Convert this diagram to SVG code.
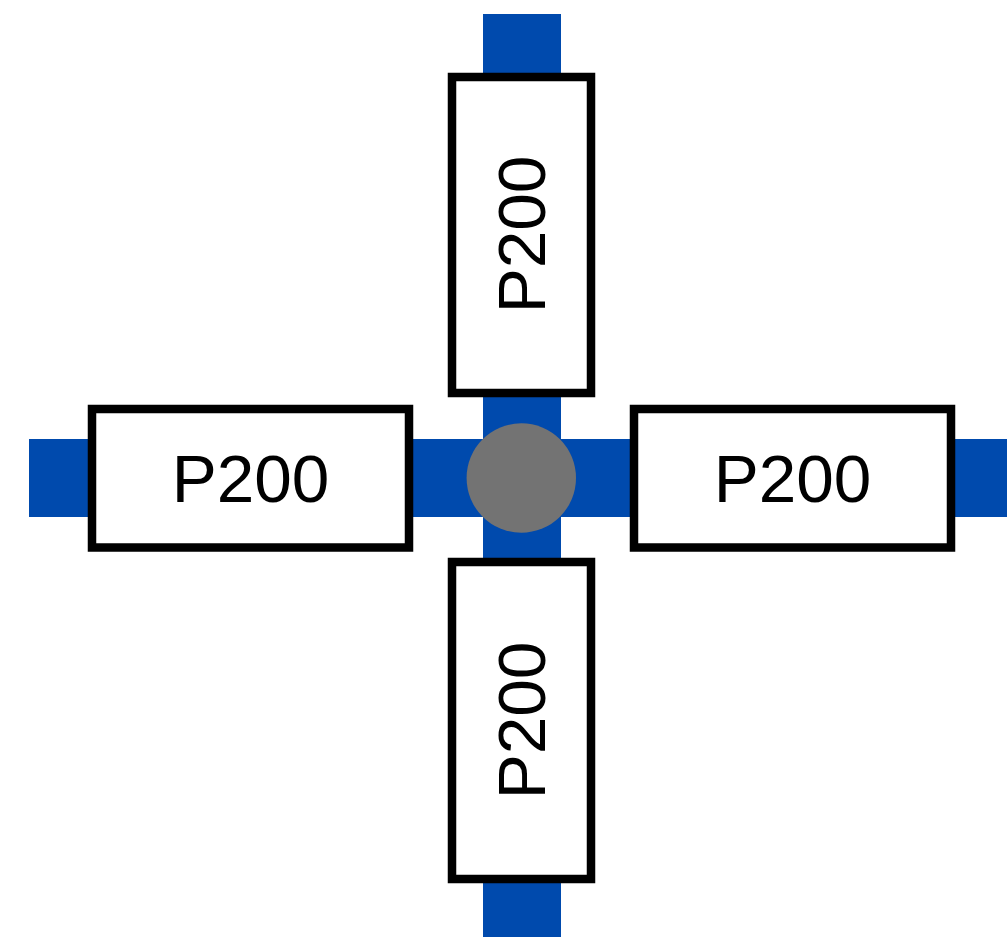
<svg xmlns="http://www.w3.org/2000/svg" width="1007" height="937" viewBox="0 0 1007 937">
  <style>
    .pipe { fill: #004aad; }
    .box { fill: #ffffff; stroke: #000000; stroke-width: 8.5; }
    .label { font-family: "Liberation Sans", Arial, sans-serif; font-size: 67.5px; fill: #000000; text-anchor: middle; dominant-baseline: central; }
    .hub { fill: #737373; }
  </style>
  <rect width="1007" height="937" fill="#ffffff"/>
  <g id="connectors">
    <rect class="pipe" x="483" y="14" width="78" height="923"/>
    <rect class="pipe" x="29" y="439" width="978" height="78"/>
  </g>
  <g id="node-top">
    <rect class="box" x="452" y="77" width="139" height="316"/>
    <text class="label" transform="translate(521.5 234.5) rotate(-90)" x="0" y="0">P200</text>
  </g>
  <g id="node-bottom">
    <rect class="box" x="452" y="562" width="139" height="317"/>
    <text class="label" transform="translate(521.5 720.5) rotate(-90)" x="0" y="0">P200</text>
  </g>
  <g id="node-left">
    <rect class="box" x="92" y="409" width="317" height="138.5"/>
    <text class="label" x="250.5" y="478">P200</text>
  </g>
  <g id="node-right">
    <rect class="box" x="634" y="409" width="317" height="138.5"/>
    <text class="label" x="792.5" y="478">P200</text>
  </g>
  <g id="hub">
    <circle class="hub" cx="521.3" cy="478" r="54.7"/>
  </g>
</svg>
